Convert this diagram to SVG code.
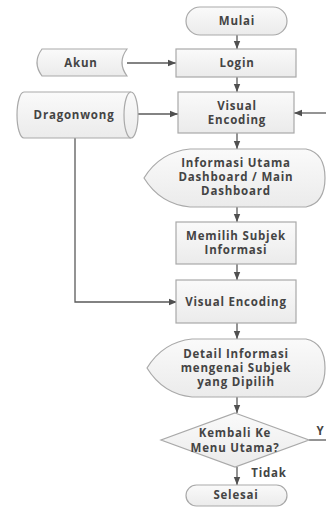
<svg xmlns="http://www.w3.org/2000/svg" width="326" height="510" viewBox="0 0 326 510">
  <defs>
    <linearGradient id="fillGrad" x1="0" y1="0" x2="0" y2="1">
      <stop offset="0" stop-color="#fafafa"/>
      <stop offset="1" stop-color="#ebebeb"/>
    </linearGradient>
    <marker id="arrow" markerUnits="userSpaceOnUse" markerWidth="8" markerHeight="8" viewBox="0 0 8 8" refX="8" refY="4" orient="auto">
      <path d="M0,0.8 L8,4 L0,7.2 Z" fill="#505050"/>
    </marker>
    <style>
      .shape { fill: url(#fillGrad); stroke: #a9a9a9; stroke-width: 1.2; }
      .label { font-family: "Open Sans", "Liberation Sans", sans-serif; font-weight: 700; font-size: 11.5px; fill: #444444; text-anchor: middle; letter-spacing: 0.8px; }
      .edge { fill: none; stroke: #5a5a5a; stroke-width: 1.3; }
      .edge.arr { marker-end: url(#arrow); }
    </style>
  </defs>

  <rect width="326" height="510" fill="#ffffff"/>

  <!-- connectors -->
  <g id="connectors">
    <line class="edge arr" x1="237" y1="35" x2="237" y2="49"/>
    <line class="edge arr" x1="127" y1="63" x2="176" y2="63"/>
    <line class="edge arr" x1="237" y1="77" x2="237" y2="92"/>
    <line class="edge arr" x1="138" y1="114" x2="178" y2="114"/>
    <line class="edge arr" x1="326" y1="113" x2="294" y2="113"/>
    <line class="edge arr" x1="237" y1="133" x2="237" y2="149"/>
    <line class="edge arr" x1="237" y1="207" x2="237" y2="222"/>
    <line class="edge arr" x1="237" y1="264" x2="237" y2="280"/>
    <polyline class="edge arr" points="75,138 75,302 177,302"/>
    <line class="edge arr" x1="237" y1="323" x2="237" y2="339"/>
    <line class="edge arr" x1="237" y1="397" x2="237" y2="413"/>
    <line class="edge arr" x1="237" y1="467" x2="237" y2="485"/>
    <line class="edge" x1="309" y1="440" x2="326" y2="440"/>
    <text class="label" x="320" y="435" style="letter-spacing:0">Y</text>
    <text class="label" x="269" y="477">Tidak</text>
  </g>

  <g id="mulai">
    <rect class="shape" x="186" y="7" width="101" height="28" rx="14"/>
    <text class="label" x="237" y="25">Mulai</text>
  </g>

  <g id="akun">
    <path class="shape" d="M42,49 L127,49 Q117,62.5 127,76 L42,76 Q32,62.5 42,49 Z"/>
    <text class="label" x="81" y="67">Akun</text>
  </g>

  <g id="login">
    <rect class="shape" x="176" y="49" width="120" height="28"/>
    <text class="label" x="237" y="67">Login</text>
  </g>

  <g id="dragonwong">
    <path class="shape" d="M24,92 L131,92 A7,23 0 0 1 131,138 L24,138 A7,23 0 0 1 24,92 Z"/>
    <path class="shape" d="M131,92 A7,23 0 0 0 131,138"/>
    <text class="label" x="74" y="119">Dragonwong</text>
  </g>

  <g id="visual-encoding-1">
    <rect class="shape" x="178" y="92" width="116" height="41"/>
    <text class="label" x="237" y="110">Visual</text>
    <text class="label" x="237" y="124">Encoding</text>
  </g>

  <g id="dashboard">
    <path class="shape" d="M144,178 Q160,152 190,149 L306,149 Q325,153 325,178 Q325,203 306,207 L190,207 Q160,204 144,178 Z"/>
    <text class="label" x="236" y="167">Informasi Utama</text>
    <text class="label" x="236" y="181">Dashboard / Main</text>
    <text class="label" x="236" y="195">Dashboard</text>
  </g>

  <g id="memilih">
    <rect class="shape" x="176" y="222" width="120" height="42"/>
    <text class="label" x="236" y="240">Memilih Subjek</text>
    <text class="label" x="236" y="254">Informasi</text>
  </g>

  <g id="visual-encoding-2">
    <rect class="shape" x="176" y="280" width="120" height="43"/>
    <text class="label" x="236" y="306">Visual Encoding</text>
  </g>

  <g id="detail">
    <path class="shape" d="M147,368 Q163,342 192,339 L306,339 Q325,343 325,368 Q325,393 306,397 L192,397 Q163,394 147,368 Z"/>
    <text class="label" x="236" y="358">Detail Informasi</text>
    <text class="label" x="236" y="372">mengenai Subjek</text>
    <text class="label" x="236" y="386">yang Dipilih</text>
  </g>

  <g id="kembali">
    <polygon class="shape" points="235,413 309,440 235,467 161,440"/>
    <text class="label" x="235" y="437">Kembali Ke</text>
    <text class="label" x="235" y="452">Menu Utama?</text>
  </g>

  <g id="selesai">
    <rect class="shape" x="186" y="485" width="101" height="21" rx="10.5"/>
    <text class="label" x="236" y="499">Selesai</text>
  </g>
</svg>
